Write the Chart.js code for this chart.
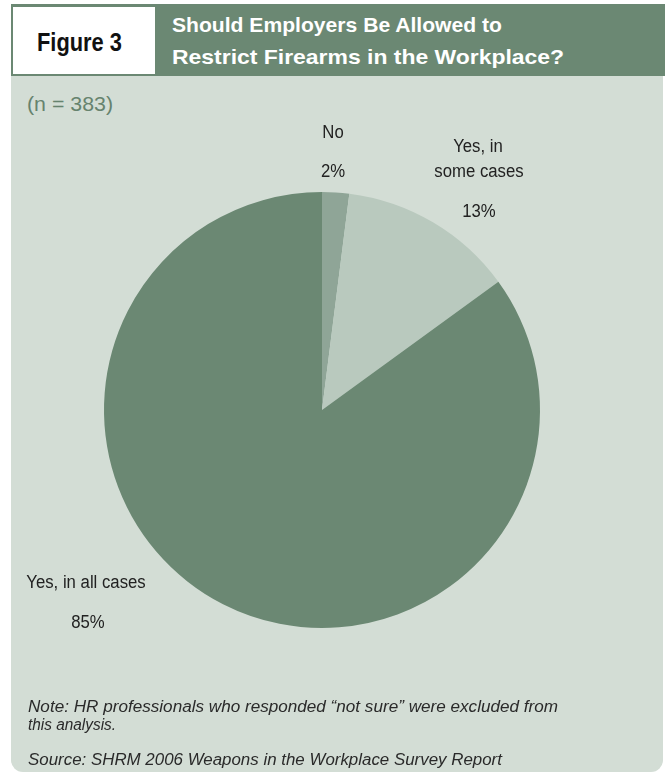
<!DOCTYPE html>
<html>
<head>
<meta charset="utf-8">
<script src="https://cdn.jsdelivr.net/npm/chart.js@4.4.0/dist/chart.umd.min.js"></script>
<style>
    body {
        margin: 0;
        width: 665px;
        height: 776px;
        background: #ffffff;
        font-family: "Liberation Sans", Arial, sans-serif;
        position: relative;
        overflow: hidden;
    }
    .header-band {
        position: absolute;
        left: 11px;
        top: 4px;
        width: 654px;
        height: 72px;
        background: #6b8873;
    }
    .figure-box {
        position: absolute;
        left: 13px;
        top: 7px;
        width: 142px;
        height: 67px;
        background: #ffffff;
    }
    .fit {
        position: absolute;
        white-space: nowrap;
        transform-origin: 0 50%;
    }
    .figure-label {
        left: 37px;
        top: 27px;
        font-weight: bold;
        font-size: 26px;
        line-height: 30px;
        color: #111;
    }
    .title-line {
        left: 172px;
        color: #ffffff;
        font-weight: bold;
        font-size: 21px;
        line-height: 24px;
    }
    .panel {
        position: absolute;
        left: 11px;
        top: 76px;
        width: 652px;
        height: 696px;
        background: #d3ddd5;
        border-radius: 0 0 12px 12px;
    }
    .sample-size {
        left: 27px;
        top: 92px;
        font-size: 20px;
        line-height: 24px;
        color: #66836e;
    }
    .chart-wrap {
        position: absolute;
        left: 11px;
        top: 76px;
        width: 652px;
        height: 696px;
    }
    .note {
        left: 28px;
        font-style: italic;
        font-size: 16px;
        line-height: 20px;
        color: #2a2a2a;
    }
</style>
</head>
<body>
    <div class="header-band"></div>
    <div class="figure-box"></div>
    <div class="fit figure-label" data-w="85">Figure 3</div>
    <div class="fit title-line" style="top: 13px;" data-w="330">Should Employers Be Allowed to</div>
    <div class="fit title-line" style="top: 45px;" data-w="392">Restrict Firearms in the Workplace?</div>
    <div class="panel"></div>
    <div class="fit sample-size" data-w="86">(n = 383)</div>
    <div class="chart-wrap"><canvas id="pieChart" width="652" height="696"></canvas></div>
    <div class="fit note" style="top: 697px;" data-w="530">Note: HR professionals who responded “not sure” were excluded from</div>
    <div class="fit note" style="top: 715px;" data-w="88">this analysis.</div>
    <div class="fit note" style="top: 750px;" data-w="474">Source: SHRM 2006 Weapons in the Workplace Survey Report</div>

<script>
// Survey answers, clockwise from 12 o'clock
const answerLabels = ['No', 'Yes, in some cases', 'Yes, in all cases'];
const answerShares = [2, 13, 85];
const sliceColors = ['#8fa597', '#b9c9be', '#6b8873'];

// Label lines drawn outside the pie, as offsets from the pie centre;
// the last line of each group is the slice's percentage
const labelLines = [
    [{ text: 'No', dx: 11, dy: -277 }, { dx: 11, dy: -238 }],
    [{ text: 'Yes, in', dx: 156, dy: -263 }, { text: 'some cases', dx: 157, dy: -238 }, { dx: 157, dy: -198 }],
    [{ text: 'Yes, in all cases', dx: -236, dy: 173 }, { dx: -234, dy: 213 }]
];
labelLines.forEach((lines, i) => {
    lines[lines.length - 1].text = answerShares[i] + '%';
});

// squeeze header / note text to the narrow face used in the layout
document.querySelectorAll('.fit').forEach(el => {
    const target = parseFloat(el.dataset.w);
    const actual = el.getBoundingClientRect().width;
    if (actual > 0) el.style.transform = 'scaleX(' + (target / actual).toFixed(3) + ')';
});

const sliceLabelPlugin = {
    id: 'sliceLabels',
    afterDatasetsDraw(chart) {
        const ctx = chart.ctx;
        const arc = chart.getDatasetMeta(0).data[0];
        const cx = arc.x;
        const cy = arc.y;
        const squeeze = 0.93;
        ctx.save();
        ctx.font = '18px "Liberation Sans", Arial, sans-serif';
        ctx.fillStyle = '#222222';
        ctx.textAlign = 'center';
        ctx.textBaseline = 'middle';
        labelLines.forEach(lines => {
            lines.forEach(line => {
                ctx.save();
                ctx.translate(cx + line.dx, cy + line.dy);
                ctx.scale(squeeze, 1);
                ctx.fillText(line.text, 0, 0);
                ctx.restore();
            });
        });
        ctx.restore();
    }
};

const ctx = document.getElementById('pieChart');
new Chart(ctx, {
    type: 'pie',
    data: {
        labels: answerLabels,
        datasets: [{
            data: answerShares,
            backgroundColor: sliceColors,
            borderWidth: 0
        }]
    },
    options: {
        responsive: false,
        animation: false,
        layout: {
            padding: { left: 93, right: 123, top: 116, bottom: 144 }
        },
        plugins: {
            legend: { display: false },
            tooltip: { enabled: false }
        }
    },
    plugins: [sliceLabelPlugin]
});
</script>
</body>
</html>
